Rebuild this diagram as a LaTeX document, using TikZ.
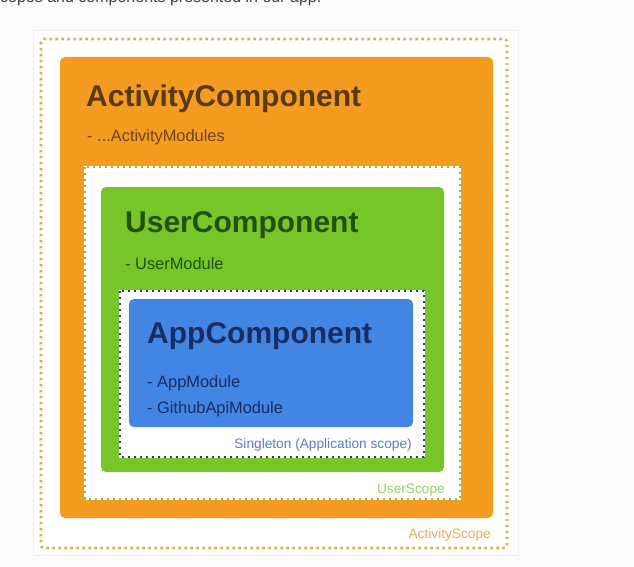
\documentclass[tikz,border=0pt]{standalone}
\usepackage{fontspec}
\setmainfont{Liberation Sans}
\definecolor{actorange}{RGB}{243,156,32}
\definecolor{actdots}{RGB}{232,170,70}
\definecolor{acttext}{RGB}{88,58,22}
\definecolor{actsub}{RGB}{110,70,25}
\definecolor{usergreen}{RGB}{118,198,42}
\definecolor{userdots}{RGB}{120,200,60}
\definecolor{usertext}{RGB}{32,82,12}
\definecolor{userlabel}{RGB}{150,212,100}
\definecolor{appblue}{RGB}{66,133,226}
\definecolor{appdots}{RGB}{40,60,130}
\definecolor{apptext}{RGB}{25,45,100}
\definecolor{applabel}{RGB}{85,125,210}
\definecolor{acttag}{RGB}{238,170,85}
\tikzset{
  dotborder/.style={line width=2.6pt, dash pattern=on 2.4pt off 3.6pt},
  title/.style={anchor=base west, inner sep=0pt, font=\fontsize{30}{32}\selectfont\bfseries},
  sub/.style={anchor=base west, inner sep=0pt, font=\fontsize{16.4}{18}\selectfont},
  tag/.style={anchor=base east, inner sep=0pt, font=\fontsize{13.7}{15}\selectfont}
}
\begin{document}
\begin{tikzpicture}[x=1pt,y=-1pt]
\useasboundingbox (0,0) rectangle (634,567);
\fill[white!97!gray] (0,0) rectangle (634,567);
% cut-off caption line
\begin{scope}
\clip (0,0) rectangle (634,567);
\node[anchor=base west, inner sep=0pt, text=black!75, font=\fontsize{16}{18}\selectfont] (caption) at (-8,3) {scopes and components presented in our app.};
\end{scope}
% card
\fill[white, draw=black!6] (33,30) rectangle (518,555);
% ActivityScope
\draw[actdots, dotborder, rounded corners=3pt] (41,39) rectangle (507,548);
\fill[actorange, rounded corners=5pt] (60,57) rectangle (493,518);
\node[title, text=acttext] (actc) at (86,107) {ActivityComponent};
\node[sub, text=actsub] (actm) at (87,141) {- ...ActivityModules};
\node[tag, text=acttag] (acts) at (491,538) {ActivityScope};
% UserScope
\fill[white] (84,166) rectangle (461,500);
\draw[userdots, dotborder] (85,167) rectangle (460,499);
\fill[usergreen, rounded corners=5pt] (101,187) rectangle (444,472);
\node[title, text=usertext] (userc) at (125,232) {UserComponent};
\node[sub, text=usertext] (userm) at (125,269) {- UserModule};
\node[tag, text=userlabel] (users) at (445,493) {UserScope};
% App scope
\fill[white] (119,290) rectangle (425,458);
\draw[appdots, dotborder] (120,291) rectangle (424,457);
\fill[appblue, rounded corners=5pt] (129,299) rectangle (413,427);
\node[title, text=apptext] (appc) at (147,343) {AppComponent};
\node[sub, text=apptext] (appm) at (147,387) {- AppModule};
\node[sub, text=apptext] (gham) at (147,413) {- GithubApiModule};
\node[tag, text=applabel] (apps) at (412,448) {Singleton (Application scope)};
\end{tikzpicture}
\end{document}
